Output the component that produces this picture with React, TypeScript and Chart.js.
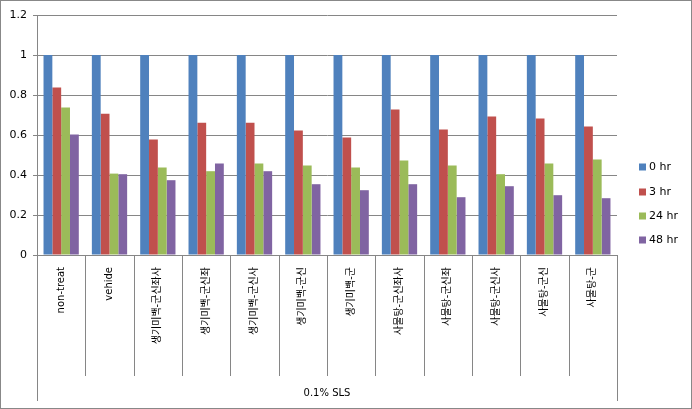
import React, { useEffect, useRef } from "react";
import { Chart, registerables } from "chart.js";

Chart.register(...registerables);

const categories = [
  "non-treat",
  "vehide",
  "생기미백-군신좌사",
  "생기미백-군신좌",
  "생기미백-군신사",
  "생기미백-군신",
  "생기미백-군",
  "사물탕-군신좌사",
  "사물탕-군신좌",
  "사물탕-군신사",
  "사물탕-군신",
  "사물탕-군",
];
const groupLabel = "0.1% SLS";
const seriesNames = ["0 hr", "3 hr", "24 hr", "48 hr"];
const hr0 = [1, 1, 1, 1, 1, 1, 1, 1, 1, 1, 1, 1];
const hr3 = [0.837, 0.706, 0.578, 0.661, 0.661, 0.623, 0.588, 0.727, 0.628, 0.693, 0.683, 0.643];
const hr24 = [0.737, 0.407, 0.438, 0.419, 0.458, 0.448, 0.438, 0.473, 0.448, 0.404, 0.458, 0.478];
const hr48 = [0.603, 0.404, 0.374, 0.458, 0.419, 0.354, 0.324, 0.354, 0.289, 0.344, 0.299, 0.284];
const colors = ["#4F81BD", "#C0504D", "#9BBB59", "#8064A2"];

const FONT = "'DejaVu Sans', 'Noto Sans CJK KR', sans-serif";
const GRID = "#868686";

const extrasPlugin = {
  id: "extras",
  afterDraw(chart: any) {
    const ctx = chart.ctx;
    const area = chart.chartArea;
    const n = categories.length;
    const w = (area.right - area.left) / n;
    ctx.save();
    ctx.strokeStyle = GRID;
    ctx.lineWidth = 1;
    // category separators
    for (let i = 0; i <= n; i++) {
      const x = Math.round(area.left + i * w) + 0.5;
      const yEnd = i === 0 || i === n ? 401 : 376;
      ctx.beginPath();
      ctx.moveTo(x, area.bottom);
      ctx.lineTo(x, yEnd);
      ctx.stroke();
    }
    // group label
    ctx.fillStyle = "#000";
    ctx.font = "10px " + FONT;
    ctx.textAlign = "center";
    ctx.textBaseline = "middle";
    ctx.fillText(groupLabel, (area.left + area.right) / 2, 393);
    // legend
    const ys = [167, 192, 216, 240];
    ctx.textAlign = "left";
    ctx.font = "11px " + FONT;
    for (let i = 0; i < seriesNames.length; i++) {
      ctx.fillStyle = colors[i];
      ctx.fillRect(639, ys[i] - 3.5, 7, 7);
      ctx.fillStyle = "#000";
      ctx.fillText(seriesNames[i], 649, ys[i] + 0.5);
    }
    // outer border
    ctx.strokeStyle = "#888";
    ctx.strokeRect(0.5, 0.5, chart.width - 1, chart.height - 1);
    ctx.restore();
  },
};

export default function App() {
  const ref = useRef<HTMLCanvasElement>(null);
  useEffect(() => {
    if (!ref.current) return;
    const chart = new Chart(ref.current, {
      type: "bar",
      data: {
        labels: categories,
        datasets: [hr0, hr3, hr24, hr48].map((d, i) => ({
          label: seriesNames[i],
          data: d,
          backgroundColor: colors[i],
          borderWidth: 0,
          categoryPercentage: 0.73,
          barPercentage: 1,
        })),
      },
      options: {
        animation: false,
        responsive: true,
        maintainAspectRatio: false,
        layout: { padding: { left: 0, right: 75, top: 15, bottom: 0 } },
        plugins: { legend: { display: false }, tooltip: { enabled: false } },
        scales: {
          x: {
            afterFit(scale: any) {
              scale.height = 154;
            },
            grid: { display: false },
            border: { display: true, color: GRID },
            ticks: {
              minRotation: 90,
              maxRotation: 90,
              autoSkip: false,
              padding: 4,
              color: "#000",
              font: { family: FONT, size: 10 },
            },
          },
          y: {
            min: 0,
            max: 1.2,
            afterFit(scale: any) {
              scale.width = 37;
            },
            ticks: {
              stepSize: 0.2,
              padding: 6,
              color: "#000",
              font: { family: FONT, size: 11 },
              callback: (v: any) => String(Math.round(Number(v) * 10) / 10),
            },
            grid: { color: GRID, tickLength: 4 },
            border: { display: true, color: GRID },
          },
        },
      },
      plugins: [extrasPlugin],
    });
    return () => chart.destroy();
  }, []);
  return (
    <div style={{ position: "fixed", left: 0, top: 0, width: 692, height: 409, background: "#fff" }}>
      <canvas ref={ref} />
    </div>
  );
}
